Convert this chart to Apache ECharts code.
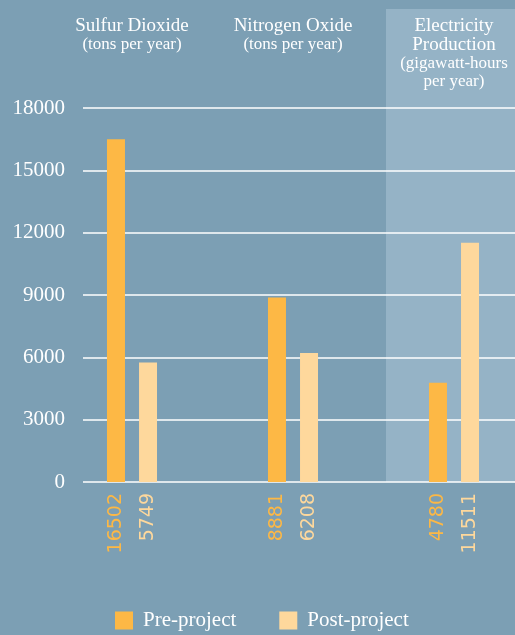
<!DOCTYPE html>
<html>
<head>
<meta charset="utf-8">
<script src="https://cdn.jsdelivr.net/npm/echarts@6/dist/echarts.min.js"></script>
<style>
html,body{margin:0;padding:0;background:#7C9FB4;}
#c{width:515px;height:635px;}
</style>
</head>
<body>
<div id="c"></div>
<script>
var categories = ['Sulfur Dioxide', 'Nitrogen Oxide', 'Electricity\nProduction'];
var units = ['(tons per year)', '(tons per year)', '(gigawatt-hours\nper year)'];
var preProject = [16502, 8881, 4780];
var postProject = [5749, 6208, 11511];
var yTicks = [0, 3000, 6000, 9000, 12000, 15000, 18000];

var serif = '"Liberation Serif", "DejaVu Serif", serif';
var preColor = '#FDB845';
var postColor = '#FED89C';

var chart = echarts.init(document.getElementById('c'));
var yMin = yTicks[0], yMax = yTicks[yTicks.length - 1], yStep = yTicks[1] - yTicks[0];

function valueLabel(color) {
  return {
    show: true,
    position: 'bottom',
    distance: 11,
    rotate: 90,
    align: 'right',
    verticalAlign: 'middle',
    color: color,
    fontFamily: '"DejaVu Sans", sans-serif',
    fontSize: 19,
    formatter: function (p) { return String(p.value); }
  };
}

chart.setOption({
  backgroundColor: '#7C9FB4',
  animation: false,
  graphic: [{
    type: 'rect', z: -10, silent: true,
    shape: { x: 386, y: 9, width: 129, height: 473 },
    style: { fill: '#95B3C6' }
  }],
  grid: [
    { left: 83, right: 0, top: 108, bottom: 153, outerBoundsMode: 'none', containLabel: false },
    { left: 51.5, width: 483, top: 108, bottom: 153, outerBoundsMode: 'none', containLabel: false }
  ],
  legend: {
    left: 115, top: 610, padding: 0,
    itemWidth: 18, itemHeight: 18, itemGap: 43,
    icon: 'rect',
    textStyle: { color: '#FFFFFF', fontFamily: serif, fontSize: 21, padding: [0, 0, 0, 5] },
    data: ['Pre-project', 'Post-project']
  },
  xAxis: [
    { gridIndex: 0, type: 'category', data: categories, show: false },
    {
      gridIndex: 1, type: 'category', data: categories, position: 'top',
      axisLine: { show: false }, axisTick: { show: false },
      axisLabel: {
        margin: 91, verticalAlign: 'top', interval: 0, color: '#FFFFFF',
        formatter: function (v, i) {
          var lines = v.split('\n').map(function (s) { return '{t|' + s + '}'; });
          var sub = units[i].split('\n').map(function (s) { return '{s|' + s + '}'; });
          return lines.concat(sub).join('\n');
        },
        rich: {
          t: { fontFamily: serif, fontSize: 19, lineHeight: 19, color: '#FFFFFF' },
          s: { fontFamily: serif, fontSize: 17, lineHeight: 18, color: '#FFFFFF' }
        }
      }
    }
  ],
  yAxis: [
    {
      gridIndex: 0, type: 'value', min: yMin, max: yMax, interval: yStep,
      axisLine: { show: false }, axisTick: { show: false },
      axisLabel: {
        margin: 18, color: '#FFFFFF', fontFamily: serif, fontSize: 21,
        formatter: function (v) { return String(v); }
      },
      splitLine: { show: true, lineStyle: { color: '#FFFFFF', width: 1.5 } }
    },
    {
      gridIndex: 1, type: 'value', min: yMin, max: yMax, interval: yStep, show: false
    }
  ],
  series: [
    {
      name: 'Pre-project', type: 'bar', xAxisIndex: 1, yAxisIndex: 1,
      data: preProject, barWidth: 18, barGap: '78%',
      itemStyle: { color: preColor }, label: valueLabel(preColor)
    },
    {
      name: 'Post-project', type: 'bar', xAxisIndex: 1, yAxisIndex: 1,
      data: postProject, barWidth: 18, barGap: '78%',
      itemStyle: { color: postColor }, label: valueLabel(postColor)
    }
  ]
});
</script>
</body>
</html>
